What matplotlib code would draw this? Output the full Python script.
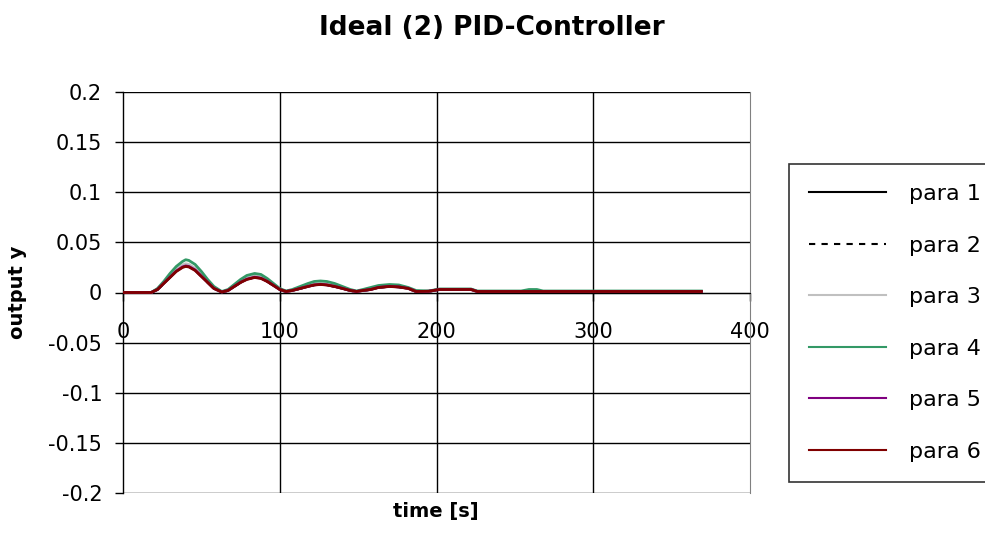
import matplotlib
matplotlib.use("Agg")
import matplotlib.pyplot as plt

plt.rcParams['font.family'] = ['DejaVu Sans']

# time axis [s]
t = [0, 18, 22, 26, 30, 34, 38, 40, 42, 46, 50, 54, 58, 63, 67, 71, 75, 79, 84, 88,
     92, 96, 100, 104, 108, 113, 118, 122, 126, 130, 135, 140, 145, 149, 153, 158, 163, 170, 176, 182,
     187, 195, 202, 222, 226, 254, 259, 264, 268, 369]

para1 = [0, 0, 0.0031, 0.0094, 0.0156, 0.0218, 0.026, 0.027, 0.0265, 0.0229, 0.0166, 0.0104, 0.0042, 0.0005, 0.0021, 0.0062, 0.0104, 0.0135, 0.0156, 0.0146,
         0.0114, 0.0073, 0.0031, 0.001, 0.0021, 0.0042, 0.0062, 0.0078, 0.0083, 0.0078, 0.0062, 0.0042, 0.0021, 0.001, 0.0021, 0.0031, 0.0052, 0.0062, 0.0057, 0.0042,
         0.001, 0.0012, 0.0031, 0.0031, 0.001, 0.001, 0.001, 0.001, 0.001, 0.001]
para2 = [0, 0, 0.0031, 0.0093, 0.0155, 0.0217, 0.0259, 0.0269, 0.0264, 0.0228, 0.0165, 0.0103, 0.0041, 0.0005, 0.0021, 0.0062, 0.0103, 0.0134, 0.0155, 0.0145,
         0.0113, 0.0072, 0.0031, 0.001, 0.0021, 0.0041, 0.0062, 0.0077, 0.0082, 0.0077, 0.0062, 0.0041, 0.0021, 0.001, 0.0021, 0.0031, 0.0052, 0.0062, 0.0057, 0.0041,
         0.001, 0.0012, 0.0031, 0.0031, 0.001, 0.001, 0.001, 0.001, 0.001, 0.001]
para3 = [0, 0, 0.0033, 0.0099, 0.0165, 0.023, 0.0275, 0.0287, 0.028, 0.0242, 0.0176, 0.011, 0.0044, 0.0006, 0.0022, 0.0066, 0.011, 0.0143, 0.0165, 0.0154,
         0.0121, 0.0077, 0.0033, 0.0011, 0.0022, 0.0044, 0.0066, 0.0083, 0.0088, 0.0083, 0.0066, 0.0044, 0.0022, 0.0011, 0.0022, 0.0033, 0.0055, 0.0066, 0.006, 0.0044,
         0.0011, 0.0013, 0.0033, 0.0033, 0.0011, 0.0011, 0.0011, 0.0011, 0.0011, 0.0011]
para4 = [0, 0, 0.004, 0.011, 0.019, 0.026, 0.031, 0.0327, 0.032, 0.028, 0.021, 0.013, 0.006, 0.001, 0.003, 0.008, 0.013, 0.017, 0.019, 0.018,
         0.014, 0.009, 0.004, 0.0015, 0.003, 0.006, 0.009, 0.011, 0.0115, 0.011, 0.009, 0.006, 0.003, 0.0015, 0.003, 0.005, 0.007, 0.008, 0.0075, 0.005,
         0.002, 0.0015, 0.0035, 0.0035, 0.0015, 0.0015, 0.003, 0.003, 0.0015, 0.0015]
para5 = [0, 0, 0.003, 0.0092, 0.0153, 0.0214, 0.0255, 0.0265, 0.026, 0.0225, 0.0163, 0.0102, 0.0041, 0.0005, 0.002, 0.0061, 0.0102, 0.0133, 0.0153, 0.0143,
         0.0112, 0.0071, 0.003, 0.001, 0.002, 0.0041, 0.0061, 0.0076, 0.0082, 0.0076, 0.0061, 0.0041, 0.002, 0.001, 0.002, 0.003, 0.0051, 0.0061, 0.0056, 0.0041,
         0.001, 0.0012, 0.003, 0.003, 0.001, 0.001, 0.001, 0.001, 0.001, 0.001]
para6 = [0, 0, 0.003, 0.009, 0.015, 0.021, 0.025, 0.026, 0.0255, 0.022, 0.016, 0.010, 0.004, 0.0005, 0.002, 0.006, 0.010, 0.013, 0.015, 0.014,
         0.011, 0.007, 0.003, 0.001, 0.002, 0.004, 0.006, 0.0075, 0.008, 0.0075, 0.006, 0.004, 0.002, 0.001, 0.002, 0.003, 0.005, 0.006, 0.0055, 0.004,
         0.001, 0.0012, 0.003, 0.003, 0.001, 0.001, 0.001, 0.001, 0.001, 0.001]

series = [para1, para2, para3, para4, para5, para6]
labels = ["para 1", "para 2", "para 3", "para 4", "para 5", "para 6"]
colors = ["#000000", "#000000", "#c0c0c0", "#339966", "#800080", "#800000"]
styles = ["-", (0, (3, 3)), "-", "-", "-", "-"]

fig = plt.figure(figsize=(9.85, 5.53), dpi=100)
ax = fig.add_axes([123 / 985, 60 / 553, 627 / 985, 401 / 553])

for y, lab, c, ls in zip(series, labels, colors, styles):
    ax.plot(t, y, color=c, linestyle=ls, linewidth=2.0, label=lab, zorder=3)

ax.set_xlim(0, 400)
ax.set_ylim(-0.2, 0.2)
ax.set_xticks([0, 100, 200, 300, 400])
ax.set_xticklabels(["0", "100", "200", "300", "400"])
yt = [0.2, 0.15, 0.1, 0.05, 0, -0.05, -0.1, -0.15, -0.2]
ax.set_yticks(yt)
ax.set_yticklabels(["0.2", "0.15", "0.1", "0.05", "0", "-0.05", "-0.1", "-0.15", "-0.2"])

for v in yt:
    ax.axhline(v, color="black", linewidth=1.0, zorder=1)
for v in [100, 200, 300]:
    ax.axvline(v, color="black", linewidth=1.0, zorder=1)

ax.spines['bottom'].set_position(('data', 0))
ax.spines['top'].set_visible(False)
ax.spines['right'].set_color("#808080")
ax.spines['left'].set_linewidth(1.0)
ax.tick_params(axis='x', direction='out', length=6, width=1, pad=15, labelsize=15)
ax.tick_params(axis='y', direction='out', length=6, width=1, pad=9, labelsize=15)

fig.text(0.499, 1 - 28 / 553, "Ideal (2) PID-Controller", ha="center", va="center",
         fontsize=19, fontweight="bold")
fig.text(436 / 985, 1 - 511 / 553, "time [s]", ha="center", va="center",
         fontsize=14, fontweight="bold")
fig.text(18 / 985, 1 - 292 / 553, "output y", ha="center", va="center",
         fontsize=14, fontweight="bold", rotation=90)

leg = fig.legend(loc="upper left", bbox_to_anchor=(789 / 985, 1 - 164 / 553),
                 fontsize=16, frameon=True, fancybox=False, borderpad=0.9,
                 borderaxespad=0, labelspacing=1.42, handlelength=3.47,
                 handletextpad=1.04)
leg.get_frame().set_edgecolor("black")
leg.get_frame().set_linewidth(1.2)
for line in leg.get_lines():
    line.set_linewidth(1.5)

fig.savefig("out.png", dpi=100)
